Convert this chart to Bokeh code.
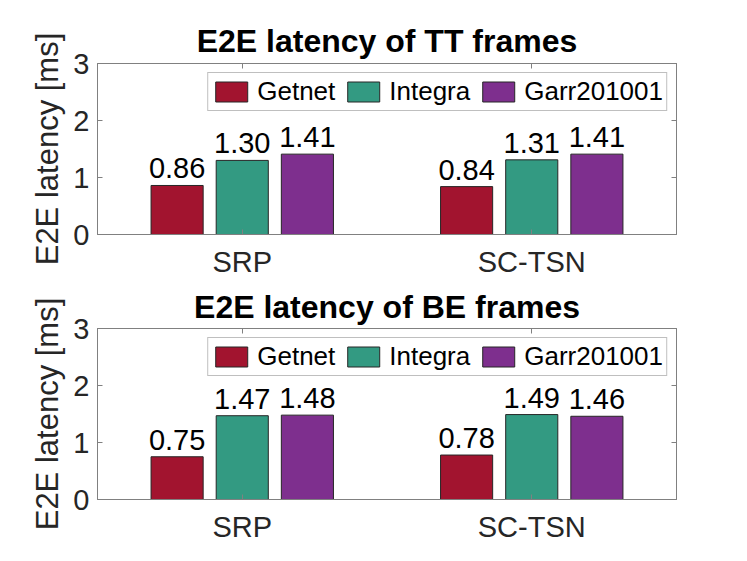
from bokeh.plotting import figure
from bokeh.models import (ColumnDataSource, FactorRange, Range1d, CategoricalAxis,
                          LinearAxis, FixedTicker, Legend, LegendItem)
from bokeh.transform import dodge
from bokeh.layouts import column
from bokeh.core.properties import value
from bokeh.embed import file_html
from bokeh.resources import INLINE

categories = ["SRP", "SC-TSN"]
series = ["Getnet", "Integra", "Garr201001"]
colors = ["#A2142F", "#339A82", "#7E2F8E"]
tt_getnet = [0.86, 0.84]
tt_integra = [1.30, 1.31]
tt_garr = [1.41, 1.41]
be_getnet = [0.75, 0.78]
be_integra = [1.47, 1.49]
be_garr = [1.48, 1.46]
y_ticks = [0, 1, 2, 3]

FONT = "Liberation Sans"
AX_COL = "#808080"
TXT_COL = "#262626"


def make_panel(title, vals, border_top, border_bottom, title_standoff):
    p = figure(x_range=FactorRange(factors=categories, range_padding=0),
               y_range=Range1d(0, 3),
               frame_width=579, frame_height=171,
               min_border_left=97, min_border_right=55,
               min_border_top=border_top, min_border_bottom=border_bottom,
               output_backend="svg", toolbar_location=None, title=title)
    p.title.text_font = FONT
    p.title.text_font_size = "32px"
    p.title.text_font_style = "bold"
    p.title.text_color = "#000000"
    p.title.align = "center"
    p.title.standoff = title_standoff
    p.grid.visible = False
    p.outline_line_color = AX_COL
    p.background_fill_color = "white"
    p.border_fill_color = "white"

    for ax in (p.xaxis[0], p.yaxis[0]):
        ax.axis_line_color = AX_COL
        ax.major_tick_line_color = AX_COL
        ax.major_tick_in = 5
        ax.major_tick_out = 0
        ax.minor_tick_line_color = None
        ax.major_label_text_font = FONT
        ax.major_label_text_font_size = "29px"
        ax.major_label_text_color = TXT_COL
    p.yaxis[0].ticker = FixedTicker(ticks=y_ticks)
    p.yaxis[0].axis_label = "E2E latency [ms]"
    p.yaxis[0].axis_label_text_font = FONT
    p.yaxis[0].axis_label_text_font_size = "31px"
    p.yaxis[0].axis_label_text_font_style = "normal"
    p.yaxis[0].axis_label_text_color = TXT_COL
    p.yaxis[0].axis_label_standoff = 5
    p.yaxis[0].major_label_standoff = 8
    p.xaxis[0].major_label_standoff = 11
    p.xaxis[0].group_text_font_size = "0px"

    top = CategoricalAxis(major_label_text_font_size="1px", major_label_text_alpha=0,
                          axis_line_color=AX_COL, major_tick_line_color=AX_COL,
                          major_tick_in=5, major_tick_out=0, major_label_standoff=0)
    right = LinearAxis(ticker=FixedTicker(ticks=y_ticks), major_label_text_font_size="1px",
                       major_label_text_alpha=0, axis_line_color=AX_COL,
                       major_tick_line_color=AX_COL, major_tick_in=5, major_tick_out=0,
                       minor_tick_line_color=None, major_label_standoff=0)
    p.add_layout(top, "above")
    p.add_layout(right, "right")

    src = ColumnDataSource(dict(cat=categories, s0=vals[0], s1=vals[1], s2=vals[2],
                                l0=[f"{v:.2f}" for v in vals[0]],
                                l1=[f"{v:.2f}" for v in vals[1]],
                                l2=[f"{v:.2f}" for v in vals[2]]))
    offsets = [-0.225, 0.0, 0.225]
    items = []
    for i in range(3):
        r = p.vbar(x=dodge("cat", offsets[i], range=p.x_range), top=f"s{i}", width=0.18,
                   source=src, fill_color=colors[i], line_color="#262626", line_width=1)
        p.text(x=dodge("cat", offsets[i], range=p.x_range), y=f"s{i}", text=f"l{i}",
               source=src, text_align="center", text_baseline="bottom",
               y_offset=-7,
               text_font=value(FONT), text_font_size="29px", text_color="#000000")
        items.append(LegendItem(label=series[i], renderers=[r]))
    leg = Legend(items=items, orientation="horizontal", location="top_right",
                 glyph_width=40, glyph_height=25, label_standoff=6, spacing=8,
                 padding=3, margin=9, label_text_font=FONT, label_text_font_size="26px",
                 label_text_color="#000000", border_line_color=AX_COL,
                 background_fill_alpha=1.0)
    p.add_layout(leg, "center")
    return p


p1 = make_panel("E2E latency of TT frames", [tt_getnet, tt_integra, tt_garr], 63, 30, 10)
p2 = make_panel("E2E latency of BE frames", [be_getnet, be_integra, be_garr], 48, 40, 8)
layout = column(p1, p2)
open("out.html", "w").write(file_html(layout, INLINE))
